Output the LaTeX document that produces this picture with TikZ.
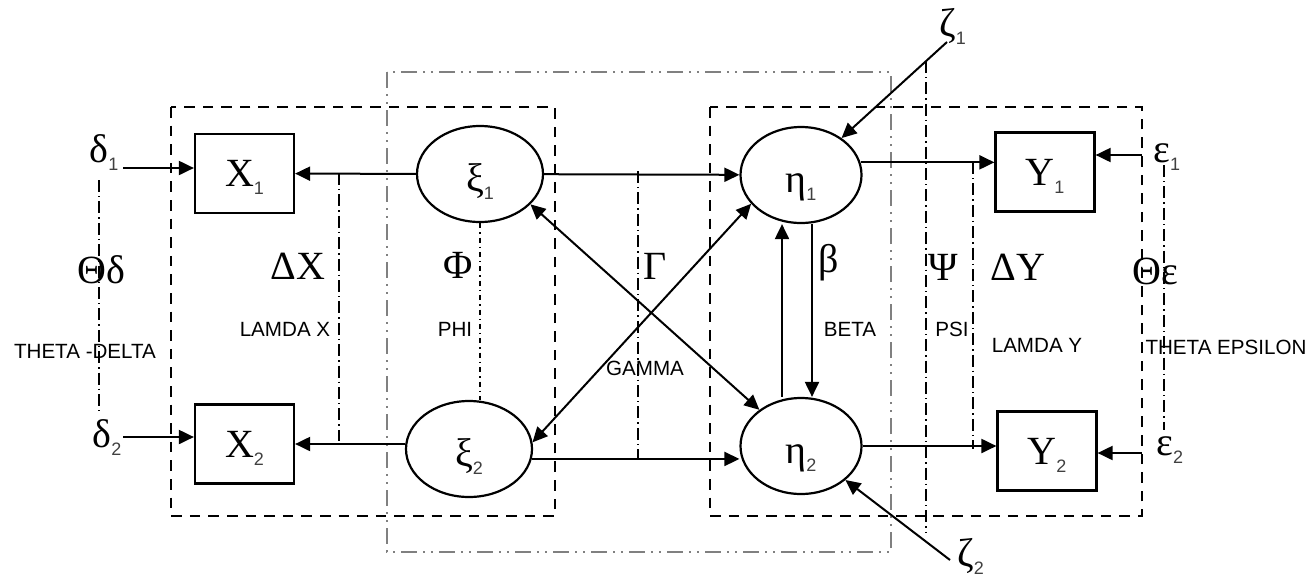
\documentclass[tikz,border=0pt]{standalone}
\usepackage{fontspec}
\setmainfont{Liberation Serif}
\setsansfont{Liberation Sans}
\usepackage{xcolor}
\usetikzlibrary{arrows.meta, shapes.geometric}

\newcommand{\subidx}[1]{\raisebox{-4pt}[0pt][0pt]{\sffamily\fontsize{9}{9}\selectfont\color{black!75}#1}}
\newcommand{\grk}{\fontsize{20}{24}\selectfont}

\begin{document}
\begin{tikzpicture}[x=0.5pt, y=-0.5pt,
				arr/.style={-{Triangle[length=7.5pt,width=7pt]}, line width=1pt},
				arrboth/.style={{Triangle[length=7.5pt,width=7pt]}-{Triangle[length=7.5pt,width=7pt]}, line width=1pt},
				obsbox/.style={draw, line width=1.1pt, minimum width=49.5pt, minimum height=39.5pt, inner sep=0pt, font=\grk},
				latent/.style={draw, ellipse, line width=1.1pt, minimum height=48pt, inner sep=0pt, text height=20pt, text depth=3pt, font=\grk},
				groupbox/.style={dash pattern=on 5.3pt off 4pt, line width=1.4pt},
				gammabox/.style={draw=black!50, dash pattern=on 8pt off 3pt on 1pt off 3pt on 1pt off 3pt, line width=1.3pt},
				corr/.style={dash pattern=on 6pt off 2pt on 0.7pt off 2pt, line width=0.7pt},
				philine/.style={dash pattern=on 2.5pt off 2pt on 0.7pt off 2pt, line width=0.7pt},
				sym/.style={font=\grk, anchor=base west, inner sep=0pt},
				caption/.style={font=\sffamily\fontsize{10.3}{12}\selectfont, inner sep=0pt}]
				\useasboundingbox (0,0) rectangle (1310,584);
				% group boxes
				\draw[gammabox] (387,72) rectangle (891,552);
				\draw[groupbox] (171,107) rectangle (555,516);
				\draw[groupbox] (710,107) rectangle (1142,516);
				% variables
				\node at (244.5,173.5) (x1) [obsbox] {X\subidx{1}};
				\node at (244.5,444) (x2) [obsbox] {X\subidx{2}};
				\node at (1045,172) (y1) [obsbox] {Y\subidx{1}};
				\node at (1047,451) (y2) [obsbox] {Y\subidx{2}};
				\node at (480,174) (ksi1) [latent, minimum width=63pt] {ξ\subidx{1}};
				\node at (469,449) (ksi2) [latent, minimum width=63pt] {ξ\subidx{2}};
				\node at (801,175) (eta1) [latent, minimum width=60.5pt] {η\subidx{1}};
				\node at (801,446) (eta2) [latent, minimum width=60.5pt] {η\subidx{2}};
				% error terms
				\node at (89,162) (d1) [sym] {δ\subidx{1}};
				\node at (92,447) (d2) [sym] {δ\subidx{2}};
				\node at (1153,162) (e1) [sym] {ε\subidx{1}};
				\node at (1156,455) (e2) [sym] {ε\subidx{2}};
				\node at (939,36) (z1) [sym] {ζ\subidx{1}};
				\node at (957,566) (z2) [sym] {ζ\subidx{2}};
				\coordinate (d1s) at (123,168);
				\coordinate (d2s) at (123,437);
				\coordinate (e1s) at (1142,155);
				\coordinate (e2s) at (1142,453);
				\coordinate (z1s) at (947,42);
				\coordinate (z2s) at (950,560);
				% matrix symbols
				\node at (77,283) (thd) [sym] {Θδ};
				\node at (270,279) (lx) [sym] {ΔX};
				\node at (443,278) (phi) [sym] {Φ};
				\node at (643,279) (gam) [sym] {Γ};
				\node at (818,272) (bet) [sym] {β};
				\node at (928,280) (psi) [sym] {Ψ};
				\node at (990,280) (ly) [sym] {ΔY};
				\node at (1132,284) (the) [sym] {Θε};
				\node at (85,351) (thdtxt) [caption] {THETA -DELTA};
				\node at (285,329) (lxtxt) [caption] {LAMDA X};
				\node at (455,329) (phitxt) [caption] {PHI};
				\node at (645,368) (gamtxt) [caption] {GAMMA};
				\node at (850,329) (bettxt) [caption] {BETA};
				\node at (952,329) (psitxt) [caption] {PSI};
				\node at (1037,345) (lytxt) [caption] {LAMDA Y};
				\node at (1226,347) (thetxt) [caption] {THETA EPSILON};
				% measurement paths
				\draw[arr] (ksi1) -- (x1);
				\draw[arr] (ksi2.west |- x2.east) -- (x2.east);
				\draw[arr] (eta1.12) -- (eta1.12 -| y1.west);
				\draw[arr] (eta2.east) -- (eta2.east -| y2.west);
				% structural paths
				\draw[arr] (ksi1) -- (eta1);
				\draw[arr] (ksi2.-9) -- (ksi2.-9 -| eta2.west);
				\draw[arrboth] (ksi1.-31) -- (eta2.139);
				\draw[arrboth] (ksi2.6) -- (eta1.210);
				\draw[arr] ([xshift=-9.5pt]eta2.north) -- ([xshift=-9.5pt]eta1.south);
				\draw[arr] ([xshift=5.5pt]eta1.south) -- ([xshift=5.5pt]eta2.north);
				% errors
				\draw[arr] (d1s) -- (d1s -| x1.west);
				\draw[arr] (d2s) -- (d2s -| x2.west);
				\draw[arr] (e1s) -- (e1s -| y1.east);
				\draw[arr] (e2s) -- (e2s -| y2.east);
				\draw[arr] (z1s) -- (eta1);
				\draw[arr] (z2s) -- (eta2);
				% covariance lines
				\draw[corr] (99,180) -- (99,412);
				\draw[corr] (339,173) -- (339,441);
				\draw[philine] (ksi1.south) -- (ksi1.south |- ksi2.north);
				\draw[corr] (638,171) -- (638,459);
				\draw[corr] (926,61) -- (926,532);
				\draw[corr] (973,162) -- (973,449);
				\draw[corr] (1164,165) -- (1164,430);
			\end{tikzpicture}
\end{document}
